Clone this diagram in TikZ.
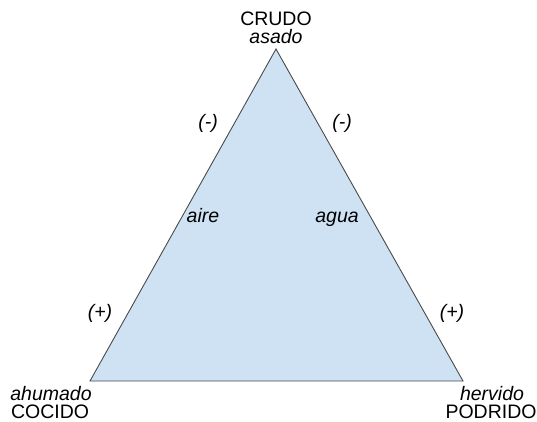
\documentclass[tikz,border=0pt]{standalone}
\usepackage{fontspec}
\setmainfont{Liberation Sans}
\usepackage{xcolor}
\definecolor{trifill}{HTML}{CFE2F3}
\definecolor{triline}{HTML}{4A4A4A}

\begin{document}
\begin{tikzpicture}[x=1pt, y=-1pt,
    lbl/.style={anchor=base, inner sep=0pt, font=\fontsize{19.5}{21}\selectfont},
    sgn/.style={lbl, font=\fontsize{19.5}{21}\selectfont\itshape}]
  \useasboundingbox (0,0) rectangle (537,421);
  % === Triangulo culinario ===
  \coordinate (crudo) at (276,49);
  \coordinate (cocido) at (90,381);
  \coordinate (podrido) at (463,381);
  \draw[triline, fill=trifill, line width=0.9pt, line join=miter]
    (crudo) -- (cocido) -- (podrido) -- cycle;
  % Vertices
  \node[lbl] (crudoT) at (276,25) {CRUDO};
  \node[sgn] (asado) at (276,43) {asado};
  \node[sgn] (ahumado) at (51,400) {ahumado};
  \node[lbl] (cocidoT) at (50,418) {COCIDO};
  \node[sgn] (hervido) at (492,400) {hervido};
  \node[lbl] (podridoT) at (491,418) {PODRIDO};
  % Lados: aire (izq) y agua (der)
  \node[sgn] (menosI) at (208,128) {(-)};
  \node[sgn] (menosD) at (342,128) {(-)};
  \node[sgn] (aire) at (203,222) {aire};
  \node[sgn] (agua) at (337,222) {agua};
  \node[sgn] (masI) at (100,318) {(+)};
  \node[sgn] (masD) at (452,318) {(+)};
\end{tikzpicture}
\end{document}
